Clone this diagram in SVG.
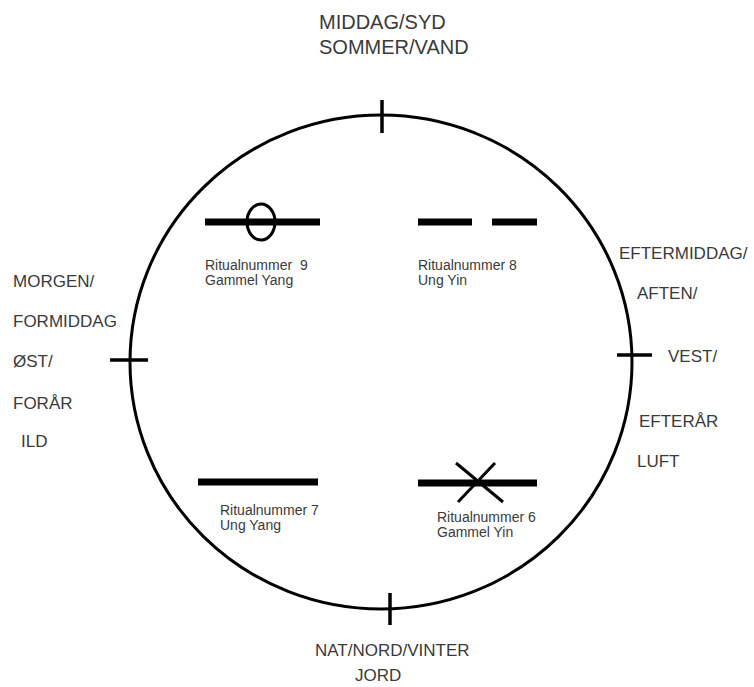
<svg xmlns="http://www.w3.org/2000/svg" width="754" height="687" viewBox="0 0 754 687">
<style>
.lbl{font-family:"Liberation Sans",Arial,sans-serif;fill:#3a3a3a;}
.big{font-size:17px;}
.top{font-size:20px;}
.sm{font-size:14px;}
.bar{stroke:#000;stroke-width:7;fill:none;}
.thin{stroke:#000;stroke-width:3;fill:none;}
.tick{stroke:#000;stroke-width:3.5;fill:none;}
</style>
<rect width="754" height="687" fill="#fff"/>
<g id="wheel">
<ellipse class="thin" cx="381" cy="362" rx="251" ry="247"/>
</g>
<g id="connectors">
<line class="tick" x1="382" y1="100" x2="382" y2="133"/>
<line class="tick" x1="390" y1="593" x2="390" y2="625"/>
<line class="tick" x1="110" y1="360" x2="148" y2="360"/>
<line class="tick" x1="617" y1="355" x2="652" y2="355"/>
</g>
<g id="south">
<text class="lbl top" x="319" y="29">MIDDAG/SYD</text>
<text class="lbl top" x="319" y="54">SOMMER/VAND</text>
</g>
<g id="north">
<text class="lbl big" x="315" y="656">NAT/NORD/VINTER</text>
<text class="lbl big" x="355" y="681">JORD</text>
</g>
<g id="east">
<text class="lbl big" x="13" y="287">MORGEN/</text>
<text class="lbl big" x="13" y="327">FORMIDDAG</text>
<text class="lbl big" x="13" y="367">ØST/</text>
<text class="lbl big" x="13" y="409">FORÅR</text>
<text class="lbl big" x="21" y="447">ILD</text>
</g>
<g id="west">
<text class="lbl big" x="619" y="259">EFTERMIDDAG/</text>
<text class="lbl big" x="637" y="299">AFTEN/</text>
<text class="lbl big" x="668" y="362">VEST/</text>
<text class="lbl big" x="639" y="427">EFTERÅR</text>
<text class="lbl big" x="637" y="467">LUFT</text>
</g>
<g id="ritual9">
<line class="bar" x1="205" y1="222" x2="320" y2="222"/>
<ellipse class="thin" cx="261" cy="222" rx="14" ry="18"/>
<text class="lbl sm" x="205" y="270">Ritualnummer&#160; 9</text>
<text class="lbl sm" x="205" y="285">Gammel Yang</text>
</g>
<g id="ritual8">
<line class="bar" x1="418" y1="222" x2="472" y2="222"/>
<line class="bar" x1="492" y1="222" x2="537" y2="222"/>
<text class="lbl sm" x="418" y="270">Ritualnummer 8</text>
<text class="lbl sm" x="418" y="285">Ung Yin</text>
</g>
<g id="ritual7">
<line class="bar" x1="198" y1="482" x2="318" y2="482"/>
<text class="lbl sm" x="220" y="515">Ritualnummer 7</text>
<text class="lbl sm" x="220" y="530">Ung Yang</text>
</g>
<g id="ritual6">
<line class="bar" x1="418" y1="483" x2="537" y2="483"/>
<line class="thin" x1="456" y1="463" x2="503" y2="502"/>
<line class="thin" x1="495" y1="463" x2="458" y2="502"/>
<text class="lbl sm" x="437" y="522">Ritualnummer 6</text>
<text class="lbl sm" x="437" y="537">Gammel Yin</text>
</g>
</svg>
